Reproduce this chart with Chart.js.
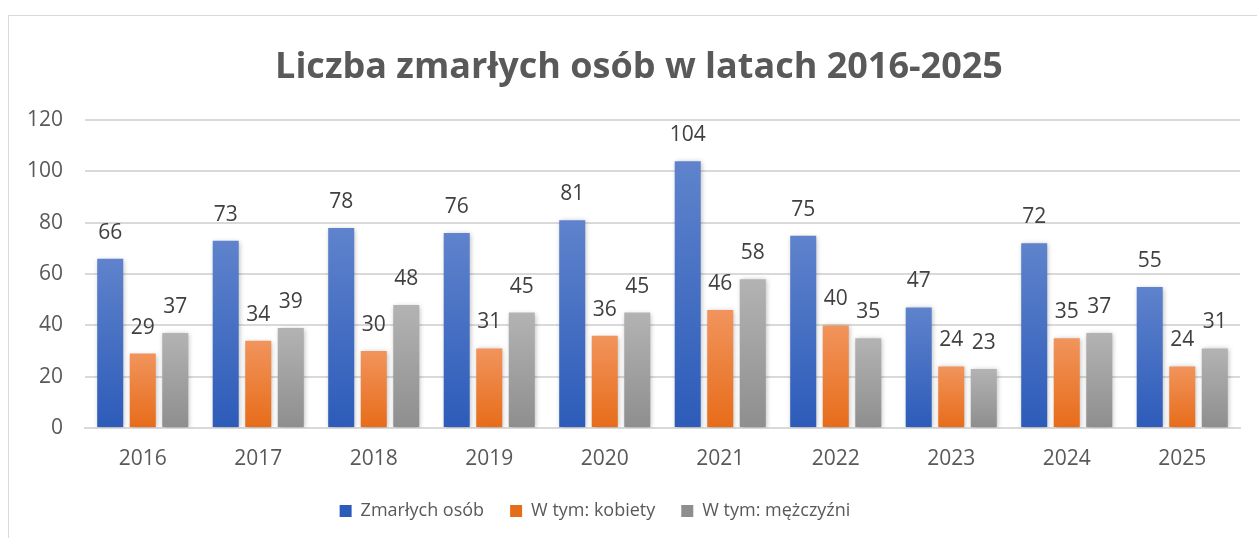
<!DOCTYPE html>
<html>
<head>
<meta charset="utf-8">
<script src="https://cdn.jsdelivr.net/npm/chart.js@4.4.1/dist/chart.umd.min.js"></script>
<style>
    html, body { margin: 0; padding: 0; background: #fff; }
    #wrap { position: relative; width: 1257px; height: 538px; overflow: hidden; }
    #frame { position: absolute; left: 8px; top: 15px; width: 1400px; height: 700px; border: 1px solid #d9d9d9; }
    #chart { position: absolute; left: 0; top: 0; }
</style>
</head>
<body>
<div id="wrap">
    <div id="frame"></div>
    <canvas id="chart" width="1257" height="538"></canvas>
</div>
<script>
// Data
const years = ['2016', '2017', '2018', '2019', '2020', '2021', '2022', '2023', '2024', '2025'];
const totalDeaths = [66, 73, 78, 76, 81, 104, 75, 47, 72, 55];
const womenDeaths = [29, 34, 30, 31, 36, 46, 40, 24, 35, 24];
const menDeaths = [37, 39, 48, 45, 45, 58, 35, 23, 37, 31];
const seriesNames = ['Zmarłych osób', 'W tym: kobiety', 'W tym: mężczyźni'];

const FONT = "'Open Sans', 'Noto Sans', sans-serif";

// vertical gradient per bar, from top of the bar down to the base
function barGradient(top, bottom, flat) {
    return (context) => {
        const chart = context.chart;
        const y = chart.scales.y;
        if (!y || typeof context.raw !== 'number') return flat;
        const yTop = y.getPixelForValue(context.raw);
        const yBase = y.getPixelForValue(0);
        if (!isFinite(yTop) || !isFinite(yBase) || yTop === yBase) return flat;
        const g = chart.ctx.createLinearGradient(0, yTop, 0, yBase);
        g.addColorStop(0, top);
        g.addColorStop(1, bottom);
        return g;
    };
}

const barShadow = {
    id: 'barShadow',
    beforeDatasetDraw(chart) {
        const ctx = chart.ctx;
        ctx.save();
        ctx.shadowColor = 'rgba(0,0,0,0.28)';
        ctx.shadowBlur = 5;
        ctx.shadowOffsetX = 1;
        ctx.shadowOffsetY = 1;
    },
    afterDatasetDraw(chart) {
        chart.ctx.restore();
    }
};

const valueLabels = {
    id: 'valueLabels',
    afterDatasetsDraw(chart) {
        const ctx = chart.ctx;
        ctx.save();
        ctx.font = '21px ' + FONT;
        ctx.fillStyle = '#404040';
        ctx.textAlign = 'center';
        ctx.textBaseline = 'alphabetic';
        chart.data.datasets.forEach((ds, i) => {
            const meta = chart.getDatasetMeta(i);
            meta.data.forEach((bar, j) => {
                ctx.fillText(String(ds.data[j]), bar.x, bar.y - 20);
            });
        });
        ctx.restore();
    }
};

// nudge title right and legend left, as in the reference
const blockShift = {
    id: 'blockShift',
    beforeDraw(chart) {
        chart.legend.left -= 35;
        chart.legend.right -= 35;
        chart.titleBlock.left += 9;
        chart.titleBlock.right += 9;
    }
};

new Chart(document.getElementById('chart').getContext('2d'), {
    type: 'bar',
    data: {
        labels: years,
        datasets: [
            { label: seriesNames[0], data: totalDeaths, backgroundColor: barGradient('#5f83cc', '#2c5bb9', '#4472c4') },
            { label: seriesNames[1], data: womenDeaths, backgroundColor: barGradient('#f1945c', '#e76c19', '#ed7d31') },
            { label: seriesNames[2], data: menDeaths, backgroundColor: barGradient('#b3b3b3', '#8e8e8e', '#a5a5a5') }
        ]
    },
    options: {
        responsive: false,
        animation: false,
        devicePixelRatio: 1,
        datasets: { bar: { categoryPercentage: 0.845, barPercentage: 0.8 } },
        layout: { padding: { left: 20, right: 17, top: 0, bottom: 8 } },
        plugins: {
            title: {
                display: true,
                text: 'Liczba zmarłych osób w latach 2016-2025',
                color: '#595959',
                font: { family: FONT, size: 36, weight: 'bold' },
                padding: { top: 46, bottom: 31 }
            },
            legend: {
                position: 'bottom',
                labels: {
                    color: '#595959',
                    font: { family: FONT, size: 18 },
                    boxWidth: 12,
                    boxHeight: 12,
                    padding: 26
                }
            },
            tooltip: { enabled: false }
        },
        scales: {
            x: {
                grid: { display: false, drawTicks: false },
                border: { color: '#d9d9d9', width: 2 },
                ticks: { color: '#595959', font: { family: FONT, size: 21 }, padding: 18 },
                afterFit(scale) { scale.height = 48; }
            },
            y: {
                min: 0,
                max: 120,
                ticks: { stepSize: 20, color: '#595959', font: { family: FONT, size: 21 }, padding: 22 },
                grid: { color: '#d9d9d9', lineWidth: 2, drawTicks: false },
                border: { display: false },
                afterFit(scale) { scale.width = 65; }
            }
        }
    },
    plugins: [barShadow, valueLabels, blockShift]
});
</script>
</body>
</html>
